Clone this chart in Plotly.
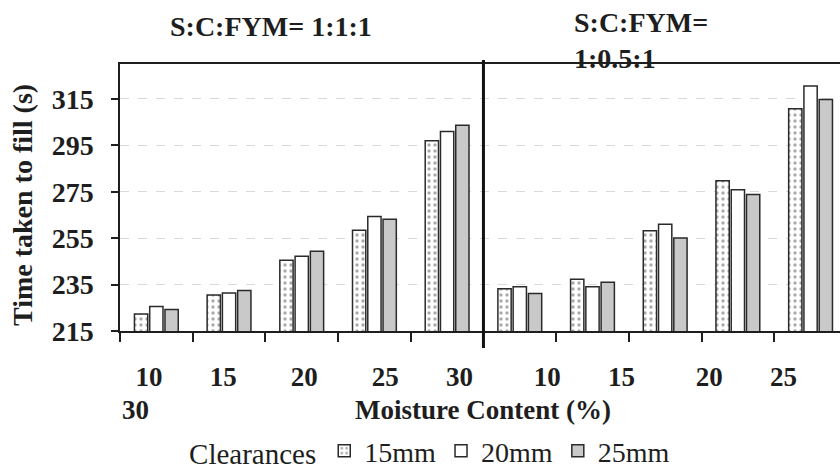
import plotly.graph_objects as go

# ---- data ----
moisture = [10, 15, 20, 25, 30]
ratios = ["1:1:1", "1:0.5:1"]
clearances = ["15mm", "20mm", "25mm"]

t15 = [222.3, 230.5, 245.5, 258.4, 296.9, 233.2, 237.3, 258.2, 279.7, 310.7]
t20 = [225.5, 231.4, 247.2, 264.3, 300.9, 234.1, 234.1, 261.0, 275.8, 320.5]
t25 = [224.3, 232.4, 249.3, 263.1, 303.6, 231.1, 236.0, 255.1, 273.8, 314.7]

y_ticks = [215, 235, 255, 275, 295, 315]
x_tick_labels = [str(m) for m in moisture] * len(ratios)

# positions along the category axis (one slot per ratio/moisture pair)
x_pos = list(range(len(moisture) * len(ratios)))
boundaries = [i - 0.5 for i in x_pos]

FONT = "Liberation Serif"
INK = "#1e1e1e"

fig = go.Figure()
styles = [
    dict(color="white", pattern=dict(shape=".", size=6, solidity=0.25, fgcolor="#555555", bgcolor="white")),
    dict(color="white"),
    dict(color="#c9c9c9"),
]
for name, vals, st in zip(clearances, [t15, t20, t25], styles):
    fig.add_trace(go.Bar(
        x=x_pos, y=vals, name=name,
        marker=dict(line=dict(color="#2a2a2a", width=1.5), **st),
    ))

fig.update_layout(
    width=840, height=472,
    margin=dict(l=120, r=0, t=64, b=141, autoexpand=False),
    paper_bgcolor="white", plot_bgcolor="white",
    barmode="group", bargap=0.37, bargroupgap=0.13,
    font=dict(family=FONT, color=INK),
    showlegend=True,
    legend=dict(
        orientation="h", x=0.432, xanchor="center", y=(331 - 451) / 267, yanchor="middle",
        title=dict(text="Clearances", side="left", font=dict(size=29, family=FONT, color=INK)),
        font=dict(size=28, family=FONT, color=INK), itemwidth=30, traceorder="normal",
        bgcolor="rgba(0,0,0,0)",
    ),
)

fig.update_xaxes(
    range=[-0.5, 9.405],
    tickmode="array", tickvals=boundaries, ticktext=[""] * len(boundaries),
    ticks="outside", ticklen=9, tickwidth=1.5, tickcolor=INK,
    showline=True, linecolor=INK, linewidth=1.5, mirror=True,
    showgrid=False, zeroline=False, fixedrange=True,
)
fig.update_yaxes(
    range=[215, 330],
    tickmode="array", tickvals=y_ticks,
    ticks="outside", ticklen=7, tickwidth=1.5, tickcolor=INK,
    ticklabelstandoff=12,
    tickfont=dict(size=28, family=FONT, weight="bold", color=INK),
    showline=True, linecolor=INK, linewidth=1.5, mirror=False,
    showgrid=True, gridcolor="#d9d9d9", gridwidth=1, griddash="dash",
    zeroline=False,
)

# separator between the two ratio panels
sep_x = len(moisture) - 0.5
fig.add_shape(type="line", xref="x", yref="paper", x0=sep_x, x1=sep_x,
              y0=-0.064, y1=1.015, line=dict(color="#111111", width=3))

# panel titles
fig.add_annotation(text="S:C:FYM= " + ratios[0], xref="paper", yref="paper",
                   x=0.21, y=1.139, xanchor="center", yanchor="middle", showarrow=False,
                   font=dict(size=28, family=FONT, weight="bold", color=INK))
fig.add_annotation(text="S:C:FYM=<br>" + ratios[1], xref="paper", yref="paper",
                   x=(572 - 120) / 720, y=(331 - 40) / 267, xanchor="left", yanchor="middle",
                   align="left", showarrow=False,
                   font=dict(size=28, family=FONT, weight="bold", color=INK))

# wrapped tick-label text row, as in the source figure
gaps = [7, 8, 8, 7, 9, 7, 9, 7]
line1 = "\u00a0\u00a0" + x_tick_labels[0]
for g, lab in zip(gaps, x_tick_labels[1:9]):
    line1 += "\u00a0" * g + lab
tick_font = dict(size=27, family=FONT, weight="bold", color=INK)
fig.add_annotation(text=line1, xref="paper", yref="paper",
                   x=0, y=(331 - 377) / 267, xanchor="left", yanchor="middle",
                   showarrow=False, font=tick_font)
fig.add_annotation(text=x_tick_labels[9], xref="paper", yref="paper",
                   x=0, y=(331 - 410) / 267, xanchor="left", yanchor="middle",
                   showarrow=False, font=tick_font)

# axis titles
fig.add_annotation(text="Moisture Content (%)", xref="paper", yref="paper",
                   x=(483 - 120) / 720, y=(331 - 410) / 267, xanchor="center", yanchor="middle",
                   showarrow=False, font=dict(size=27, family=FONT, weight="bold", color=INK))
fig.add_annotation(text="Time taken to fill (s)", xref="paper", yref="paper",
                   x=(22 - 120) / 720, y=(331 - 205) / 267, xanchor="center", yanchor="middle",
                   textangle=-90, showarrow=False,
                   font=dict(size=28, family=FONT, weight="bold", color=INK))

fig.write_html("out.html")
